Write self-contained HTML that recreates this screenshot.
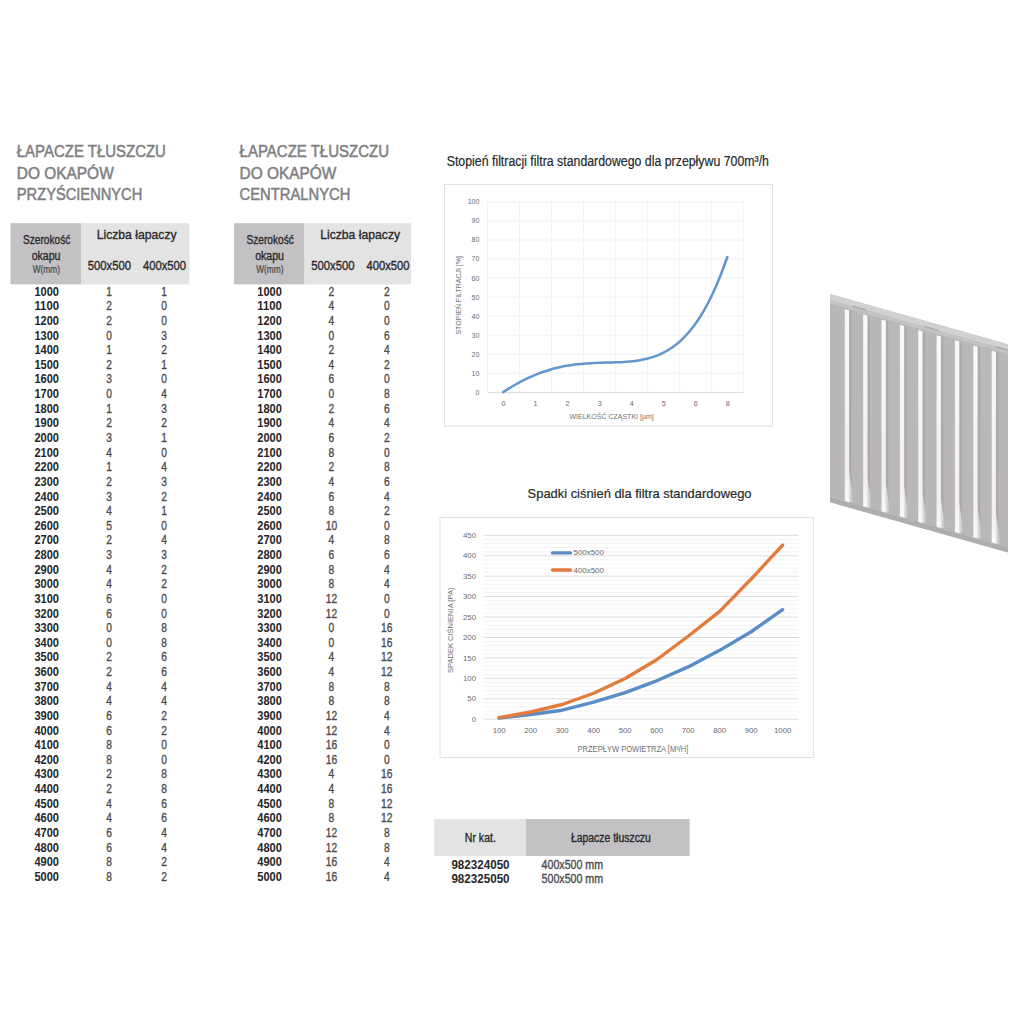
<!DOCTYPE html>
<html><head><meta charset="utf-8"><title>Łapacze tłuszczu</title>
<style>
html,body{margin:0;padding:0;background:#fff;}
body{width:1024px;height:1024px;overflow:hidden;font-family:"Liberation Sans", sans-serif;}
svg{display:block;font-family:"Liberation Sans", sans-serif;}
</style></head><body>
<svg width="1024" height="1024" viewBox="0 0 1024 1024">
<text x="16.80" y="156.80" font-size="17.4" fill="#808082" stroke="#808082" stroke-width="0.55" textLength="149.10" lengthAdjust="spacingAndGlyphs">ŁAPACZE TŁUSZCZU</text>
<text x="16.80" y="178.60" font-size="17.4" fill="#808082" stroke="#808082" stroke-width="0.55" textLength="96.90" lengthAdjust="spacingAndGlyphs">DO OKAPÓW</text>
<text x="16.80" y="200.00" font-size="17.4" fill="#808082" stroke="#808082" stroke-width="0.55" textLength="125.50" lengthAdjust="spacingAndGlyphs">PRZYŚCIENNYCH</text>
<text x="239.60" y="156.60" font-size="17.4" fill="#808082" stroke="#808082" stroke-width="0.55" textLength="149.40" lengthAdjust="spacingAndGlyphs">ŁAPACZE TŁUSZCZU</text>
<text x="239.60" y="178.50" font-size="17.4" fill="#808082" stroke="#808082" stroke-width="0.55" textLength="96.60" lengthAdjust="spacingAndGlyphs">DO OKAPÓW</text>
<text x="239.60" y="200.10" font-size="17.4" fill="#808082" stroke="#808082" stroke-width="0.55" textLength="110.80" lengthAdjust="spacingAndGlyphs">CENTRALNYCH</text>
<rect x="10.50" y="223.2" width="70.5" height="61.2" fill="#c3c1c3"/>
<rect x="81.00" y="223.2" width="108.50" height="61.2" fill="#e3e3e4"/>
<text x="23.00" y="243.70" font-size="12.5" fill="#29292b" stroke="#29292b" stroke-width="0.35" textLength="47.30" lengthAdjust="spacingAndGlyphs">Szerokość</text>
<text x="31.70" y="259.80" font-size="12.5" fill="#29292b" stroke="#29292b" stroke-width="0.35" textLength="28.80" lengthAdjust="spacingAndGlyphs">okapu</text>
<text x="32.70" y="272.50" font-size="10" fill="#4a4a4c" stroke="#4a4a4c" stroke-width="0.24499999999999997" textLength="27.30" lengthAdjust="spacingAndGlyphs">W(mm)</text>
<text x="96.70" y="239.30" font-size="13.5" fill="#29292b" stroke="#29292b" stroke-width="0.35" textLength="79.90" lengthAdjust="spacingAndGlyphs">Liczba łapaczy</text>
<text x="87.70" y="270.00" font-size="12.5" fill="#29292b" stroke="#29292b" stroke-width="0.35" textLength="43.40" lengthAdjust="spacingAndGlyphs">500x500</text>
<text x="143.00" y="270.00" font-size="12.5" fill="#29292b" stroke="#29292b" stroke-width="0.35" textLength="43.00" lengthAdjust="spacingAndGlyphs">400x500</text>
<text x="34.40" y="295.70" font-size="13" fill="#262628" font-weight="bold" textLength="24.60" lengthAdjust="spacingAndGlyphs">1000</text>
<text x="106.25" y="295.70" font-size="13" fill="#4a4a4c" stroke="#4a4a4c" stroke-width="0.35" textLength="5.70" lengthAdjust="spacingAndGlyphs">1</text>
<text x="161.15" y="295.70" font-size="13" fill="#4a4a4c" stroke="#4a4a4c" stroke-width="0.35" textLength="5.70" lengthAdjust="spacingAndGlyphs">1</text>
<text x="34.40" y="310.33" font-size="13" fill="#262628" font-weight="bold" textLength="24.60" lengthAdjust="spacingAndGlyphs">1100</text>
<text x="106.25" y="310.33" font-size="13" fill="#4a4a4c" stroke="#4a4a4c" stroke-width="0.35" textLength="5.70" lengthAdjust="spacingAndGlyphs">2</text>
<text x="161.15" y="310.33" font-size="13" fill="#4a4a4c" stroke="#4a4a4c" stroke-width="0.35" textLength="5.70" lengthAdjust="spacingAndGlyphs">0</text>
<text x="34.40" y="324.96" font-size="13" fill="#262628" font-weight="bold" textLength="24.60" lengthAdjust="spacingAndGlyphs">1200</text>
<text x="106.25" y="324.96" font-size="13" fill="#4a4a4c" stroke="#4a4a4c" stroke-width="0.35" textLength="5.70" lengthAdjust="spacingAndGlyphs">2</text>
<text x="161.15" y="324.96" font-size="13" fill="#4a4a4c" stroke="#4a4a4c" stroke-width="0.35" textLength="5.70" lengthAdjust="spacingAndGlyphs">0</text>
<text x="34.40" y="339.59" font-size="13" fill="#262628" font-weight="bold" textLength="24.60" lengthAdjust="spacingAndGlyphs">1300</text>
<text x="106.25" y="339.59" font-size="13" fill="#4a4a4c" stroke="#4a4a4c" stroke-width="0.35" textLength="5.70" lengthAdjust="spacingAndGlyphs">0</text>
<text x="161.15" y="339.59" font-size="13" fill="#4a4a4c" stroke="#4a4a4c" stroke-width="0.35" textLength="5.70" lengthAdjust="spacingAndGlyphs">3</text>
<text x="34.40" y="354.22" font-size="13" fill="#262628" font-weight="bold" textLength="24.60" lengthAdjust="spacingAndGlyphs">1400</text>
<text x="106.25" y="354.22" font-size="13" fill="#4a4a4c" stroke="#4a4a4c" stroke-width="0.35" textLength="5.70" lengthAdjust="spacingAndGlyphs">1</text>
<text x="161.15" y="354.22" font-size="13" fill="#4a4a4c" stroke="#4a4a4c" stroke-width="0.35" textLength="5.70" lengthAdjust="spacingAndGlyphs">2</text>
<text x="34.40" y="368.85" font-size="13" fill="#262628" font-weight="bold" textLength="24.60" lengthAdjust="spacingAndGlyphs">1500</text>
<text x="106.25" y="368.85" font-size="13" fill="#4a4a4c" stroke="#4a4a4c" stroke-width="0.35" textLength="5.70" lengthAdjust="spacingAndGlyphs">2</text>
<text x="161.15" y="368.85" font-size="13" fill="#4a4a4c" stroke="#4a4a4c" stroke-width="0.35" textLength="5.70" lengthAdjust="spacingAndGlyphs">1</text>
<text x="34.40" y="383.48" font-size="13" fill="#262628" font-weight="bold" textLength="24.60" lengthAdjust="spacingAndGlyphs">1600</text>
<text x="106.25" y="383.48" font-size="13" fill="#4a4a4c" stroke="#4a4a4c" stroke-width="0.35" textLength="5.70" lengthAdjust="spacingAndGlyphs">3</text>
<text x="161.15" y="383.48" font-size="13" fill="#4a4a4c" stroke="#4a4a4c" stroke-width="0.35" textLength="5.70" lengthAdjust="spacingAndGlyphs">0</text>
<text x="34.40" y="398.11" font-size="13" fill="#262628" font-weight="bold" textLength="24.60" lengthAdjust="spacingAndGlyphs">1700</text>
<text x="106.25" y="398.11" font-size="13" fill="#4a4a4c" stroke="#4a4a4c" stroke-width="0.35" textLength="5.70" lengthAdjust="spacingAndGlyphs">0</text>
<text x="161.15" y="398.11" font-size="13" fill="#4a4a4c" stroke="#4a4a4c" stroke-width="0.35" textLength="5.70" lengthAdjust="spacingAndGlyphs">4</text>
<text x="34.40" y="412.74" font-size="13" fill="#262628" font-weight="bold" textLength="24.60" lengthAdjust="spacingAndGlyphs">1800</text>
<text x="106.25" y="412.74" font-size="13" fill="#4a4a4c" stroke="#4a4a4c" stroke-width="0.35" textLength="5.70" lengthAdjust="spacingAndGlyphs">1</text>
<text x="161.15" y="412.74" font-size="13" fill="#4a4a4c" stroke="#4a4a4c" stroke-width="0.35" textLength="5.70" lengthAdjust="spacingAndGlyphs">3</text>
<text x="34.40" y="427.37" font-size="13" fill="#262628" font-weight="bold" textLength="24.60" lengthAdjust="spacingAndGlyphs">1900</text>
<text x="106.25" y="427.37" font-size="13" fill="#4a4a4c" stroke="#4a4a4c" stroke-width="0.35" textLength="5.70" lengthAdjust="spacingAndGlyphs">2</text>
<text x="161.15" y="427.37" font-size="13" fill="#4a4a4c" stroke="#4a4a4c" stroke-width="0.35" textLength="5.70" lengthAdjust="spacingAndGlyphs">2</text>
<text x="34.40" y="442.00" font-size="13" fill="#262628" font-weight="bold" textLength="24.60" lengthAdjust="spacingAndGlyphs">2000</text>
<text x="106.25" y="442.00" font-size="13" fill="#4a4a4c" stroke="#4a4a4c" stroke-width="0.35" textLength="5.70" lengthAdjust="spacingAndGlyphs">3</text>
<text x="161.15" y="442.00" font-size="13" fill="#4a4a4c" stroke="#4a4a4c" stroke-width="0.35" textLength="5.70" lengthAdjust="spacingAndGlyphs">1</text>
<text x="34.40" y="456.63" font-size="13" fill="#262628" font-weight="bold" textLength="24.60" lengthAdjust="spacingAndGlyphs">2100</text>
<text x="106.25" y="456.63" font-size="13" fill="#4a4a4c" stroke="#4a4a4c" stroke-width="0.35" textLength="5.70" lengthAdjust="spacingAndGlyphs">4</text>
<text x="161.15" y="456.63" font-size="13" fill="#4a4a4c" stroke="#4a4a4c" stroke-width="0.35" textLength="5.70" lengthAdjust="spacingAndGlyphs">0</text>
<text x="34.40" y="471.26" font-size="13" fill="#262628" font-weight="bold" textLength="24.60" lengthAdjust="spacingAndGlyphs">2200</text>
<text x="106.25" y="471.26" font-size="13" fill="#4a4a4c" stroke="#4a4a4c" stroke-width="0.35" textLength="5.70" lengthAdjust="spacingAndGlyphs">1</text>
<text x="161.15" y="471.26" font-size="13" fill="#4a4a4c" stroke="#4a4a4c" stroke-width="0.35" textLength="5.70" lengthAdjust="spacingAndGlyphs">4</text>
<text x="34.40" y="485.89" font-size="13" fill="#262628" font-weight="bold" textLength="24.60" lengthAdjust="spacingAndGlyphs">2300</text>
<text x="106.25" y="485.89" font-size="13" fill="#4a4a4c" stroke="#4a4a4c" stroke-width="0.35" textLength="5.70" lengthAdjust="spacingAndGlyphs">2</text>
<text x="161.15" y="485.89" font-size="13" fill="#4a4a4c" stroke="#4a4a4c" stroke-width="0.35" textLength="5.70" lengthAdjust="spacingAndGlyphs">3</text>
<text x="34.40" y="500.52" font-size="13" fill="#262628" font-weight="bold" textLength="24.60" lengthAdjust="spacingAndGlyphs">2400</text>
<text x="106.25" y="500.52" font-size="13" fill="#4a4a4c" stroke="#4a4a4c" stroke-width="0.35" textLength="5.70" lengthAdjust="spacingAndGlyphs">3</text>
<text x="161.15" y="500.52" font-size="13" fill="#4a4a4c" stroke="#4a4a4c" stroke-width="0.35" textLength="5.70" lengthAdjust="spacingAndGlyphs">2</text>
<text x="34.40" y="515.15" font-size="13" fill="#262628" font-weight="bold" textLength="24.60" lengthAdjust="spacingAndGlyphs">2500</text>
<text x="106.25" y="515.15" font-size="13" fill="#4a4a4c" stroke="#4a4a4c" stroke-width="0.35" textLength="5.70" lengthAdjust="spacingAndGlyphs">4</text>
<text x="161.15" y="515.15" font-size="13" fill="#4a4a4c" stroke="#4a4a4c" stroke-width="0.35" textLength="5.70" lengthAdjust="spacingAndGlyphs">1</text>
<text x="34.40" y="529.78" font-size="13" fill="#262628" font-weight="bold" textLength="24.60" lengthAdjust="spacingAndGlyphs">2600</text>
<text x="106.25" y="529.78" font-size="13" fill="#4a4a4c" stroke="#4a4a4c" stroke-width="0.35" textLength="5.70" lengthAdjust="spacingAndGlyphs">5</text>
<text x="161.15" y="529.78" font-size="13" fill="#4a4a4c" stroke="#4a4a4c" stroke-width="0.35" textLength="5.70" lengthAdjust="spacingAndGlyphs">0</text>
<text x="34.40" y="544.41" font-size="13" fill="#262628" font-weight="bold" textLength="24.60" lengthAdjust="spacingAndGlyphs">2700</text>
<text x="106.25" y="544.41" font-size="13" fill="#4a4a4c" stroke="#4a4a4c" stroke-width="0.35" textLength="5.70" lengthAdjust="spacingAndGlyphs">2</text>
<text x="161.15" y="544.41" font-size="13" fill="#4a4a4c" stroke="#4a4a4c" stroke-width="0.35" textLength="5.70" lengthAdjust="spacingAndGlyphs">4</text>
<text x="34.40" y="559.04" font-size="13" fill="#262628" font-weight="bold" textLength="24.60" lengthAdjust="spacingAndGlyphs">2800</text>
<text x="106.25" y="559.04" font-size="13" fill="#4a4a4c" stroke="#4a4a4c" stroke-width="0.35" textLength="5.70" lengthAdjust="spacingAndGlyphs">3</text>
<text x="161.15" y="559.04" font-size="13" fill="#4a4a4c" stroke="#4a4a4c" stroke-width="0.35" textLength="5.70" lengthAdjust="spacingAndGlyphs">3</text>
<text x="34.40" y="573.67" font-size="13" fill="#262628" font-weight="bold" textLength="24.60" lengthAdjust="spacingAndGlyphs">2900</text>
<text x="106.25" y="573.67" font-size="13" fill="#4a4a4c" stroke="#4a4a4c" stroke-width="0.35" textLength="5.70" lengthAdjust="spacingAndGlyphs">4</text>
<text x="161.15" y="573.67" font-size="13" fill="#4a4a4c" stroke="#4a4a4c" stroke-width="0.35" textLength="5.70" lengthAdjust="spacingAndGlyphs">2</text>
<text x="34.40" y="588.30" font-size="13" fill="#262628" font-weight="bold" textLength="24.60" lengthAdjust="spacingAndGlyphs">3000</text>
<text x="106.25" y="588.30" font-size="13" fill="#4a4a4c" stroke="#4a4a4c" stroke-width="0.35" textLength="5.70" lengthAdjust="spacingAndGlyphs">4</text>
<text x="161.15" y="588.30" font-size="13" fill="#4a4a4c" stroke="#4a4a4c" stroke-width="0.35" textLength="5.70" lengthAdjust="spacingAndGlyphs">2</text>
<text x="34.40" y="602.93" font-size="13" fill="#262628" font-weight="bold" textLength="24.60" lengthAdjust="spacingAndGlyphs">3100</text>
<text x="106.25" y="602.93" font-size="13" fill="#4a4a4c" stroke="#4a4a4c" stroke-width="0.35" textLength="5.70" lengthAdjust="spacingAndGlyphs">6</text>
<text x="161.15" y="602.93" font-size="13" fill="#4a4a4c" stroke="#4a4a4c" stroke-width="0.35" textLength="5.70" lengthAdjust="spacingAndGlyphs">0</text>
<text x="34.40" y="617.56" font-size="13" fill="#262628" font-weight="bold" textLength="24.60" lengthAdjust="spacingAndGlyphs">3200</text>
<text x="106.25" y="617.56" font-size="13" fill="#4a4a4c" stroke="#4a4a4c" stroke-width="0.35" textLength="5.70" lengthAdjust="spacingAndGlyphs">6</text>
<text x="161.15" y="617.56" font-size="13" fill="#4a4a4c" stroke="#4a4a4c" stroke-width="0.35" textLength="5.70" lengthAdjust="spacingAndGlyphs">0</text>
<text x="34.40" y="632.19" font-size="13" fill="#262628" font-weight="bold" textLength="24.60" lengthAdjust="spacingAndGlyphs">3300</text>
<text x="106.25" y="632.19" font-size="13" fill="#4a4a4c" stroke="#4a4a4c" stroke-width="0.35" textLength="5.70" lengthAdjust="spacingAndGlyphs">0</text>
<text x="161.15" y="632.19" font-size="13" fill="#4a4a4c" stroke="#4a4a4c" stroke-width="0.35" textLength="5.70" lengthAdjust="spacingAndGlyphs">8</text>
<text x="34.40" y="646.82" font-size="13" fill="#262628" font-weight="bold" textLength="24.60" lengthAdjust="spacingAndGlyphs">3400</text>
<text x="106.25" y="646.82" font-size="13" fill="#4a4a4c" stroke="#4a4a4c" stroke-width="0.35" textLength="5.70" lengthAdjust="spacingAndGlyphs">0</text>
<text x="161.15" y="646.82" font-size="13" fill="#4a4a4c" stroke="#4a4a4c" stroke-width="0.35" textLength="5.70" lengthAdjust="spacingAndGlyphs">8</text>
<text x="34.40" y="661.45" font-size="13" fill="#262628" font-weight="bold" textLength="24.60" lengthAdjust="spacingAndGlyphs">3500</text>
<text x="106.25" y="661.45" font-size="13" fill="#4a4a4c" stroke="#4a4a4c" stroke-width="0.35" textLength="5.70" lengthAdjust="spacingAndGlyphs">2</text>
<text x="161.15" y="661.45" font-size="13" fill="#4a4a4c" stroke="#4a4a4c" stroke-width="0.35" textLength="5.70" lengthAdjust="spacingAndGlyphs">6</text>
<text x="34.40" y="676.08" font-size="13" fill="#262628" font-weight="bold" textLength="24.60" lengthAdjust="spacingAndGlyphs">3600</text>
<text x="106.25" y="676.08" font-size="13" fill="#4a4a4c" stroke="#4a4a4c" stroke-width="0.35" textLength="5.70" lengthAdjust="spacingAndGlyphs">2</text>
<text x="161.15" y="676.08" font-size="13" fill="#4a4a4c" stroke="#4a4a4c" stroke-width="0.35" textLength="5.70" lengthAdjust="spacingAndGlyphs">6</text>
<text x="34.40" y="690.71" font-size="13" fill="#262628" font-weight="bold" textLength="24.60" lengthAdjust="spacingAndGlyphs">3700</text>
<text x="106.25" y="690.71" font-size="13" fill="#4a4a4c" stroke="#4a4a4c" stroke-width="0.35" textLength="5.70" lengthAdjust="spacingAndGlyphs">4</text>
<text x="161.15" y="690.71" font-size="13" fill="#4a4a4c" stroke="#4a4a4c" stroke-width="0.35" textLength="5.70" lengthAdjust="spacingAndGlyphs">4</text>
<text x="34.40" y="705.34" font-size="13" fill="#262628" font-weight="bold" textLength="24.60" lengthAdjust="spacingAndGlyphs">3800</text>
<text x="106.25" y="705.34" font-size="13" fill="#4a4a4c" stroke="#4a4a4c" stroke-width="0.35" textLength="5.70" lengthAdjust="spacingAndGlyphs">4</text>
<text x="161.15" y="705.34" font-size="13" fill="#4a4a4c" stroke="#4a4a4c" stroke-width="0.35" textLength="5.70" lengthAdjust="spacingAndGlyphs">4</text>
<text x="34.40" y="719.97" font-size="13" fill="#262628" font-weight="bold" textLength="24.60" lengthAdjust="spacingAndGlyphs">3900</text>
<text x="106.25" y="719.97" font-size="13" fill="#4a4a4c" stroke="#4a4a4c" stroke-width="0.35" textLength="5.70" lengthAdjust="spacingAndGlyphs">6</text>
<text x="161.15" y="719.97" font-size="13" fill="#4a4a4c" stroke="#4a4a4c" stroke-width="0.35" textLength="5.70" lengthAdjust="spacingAndGlyphs">2</text>
<text x="34.40" y="734.60" font-size="13" fill="#262628" font-weight="bold" textLength="24.60" lengthAdjust="spacingAndGlyphs">4000</text>
<text x="106.25" y="734.60" font-size="13" fill="#4a4a4c" stroke="#4a4a4c" stroke-width="0.35" textLength="5.70" lengthAdjust="spacingAndGlyphs">6</text>
<text x="161.15" y="734.60" font-size="13" fill="#4a4a4c" stroke="#4a4a4c" stroke-width="0.35" textLength="5.70" lengthAdjust="spacingAndGlyphs">2</text>
<text x="34.40" y="749.23" font-size="13" fill="#262628" font-weight="bold" textLength="24.60" lengthAdjust="spacingAndGlyphs">4100</text>
<text x="106.25" y="749.23" font-size="13" fill="#4a4a4c" stroke="#4a4a4c" stroke-width="0.35" textLength="5.70" lengthAdjust="spacingAndGlyphs">8</text>
<text x="161.15" y="749.23" font-size="13" fill="#4a4a4c" stroke="#4a4a4c" stroke-width="0.35" textLength="5.70" lengthAdjust="spacingAndGlyphs">0</text>
<text x="34.40" y="763.86" font-size="13" fill="#262628" font-weight="bold" textLength="24.60" lengthAdjust="spacingAndGlyphs">4200</text>
<text x="106.25" y="763.86" font-size="13" fill="#4a4a4c" stroke="#4a4a4c" stroke-width="0.35" textLength="5.70" lengthAdjust="spacingAndGlyphs">8</text>
<text x="161.15" y="763.86" font-size="13" fill="#4a4a4c" stroke="#4a4a4c" stroke-width="0.35" textLength="5.70" lengthAdjust="spacingAndGlyphs">0</text>
<text x="34.40" y="778.49" font-size="13" fill="#262628" font-weight="bold" textLength="24.60" lengthAdjust="spacingAndGlyphs">4300</text>
<text x="106.25" y="778.49" font-size="13" fill="#4a4a4c" stroke="#4a4a4c" stroke-width="0.35" textLength="5.70" lengthAdjust="spacingAndGlyphs">2</text>
<text x="161.15" y="778.49" font-size="13" fill="#4a4a4c" stroke="#4a4a4c" stroke-width="0.35" textLength="5.70" lengthAdjust="spacingAndGlyphs">8</text>
<text x="34.40" y="793.12" font-size="13" fill="#262628" font-weight="bold" textLength="24.60" lengthAdjust="spacingAndGlyphs">4400</text>
<text x="106.25" y="793.12" font-size="13" fill="#4a4a4c" stroke="#4a4a4c" stroke-width="0.35" textLength="5.70" lengthAdjust="spacingAndGlyphs">2</text>
<text x="161.15" y="793.12" font-size="13" fill="#4a4a4c" stroke="#4a4a4c" stroke-width="0.35" textLength="5.70" lengthAdjust="spacingAndGlyphs">8</text>
<text x="34.40" y="807.75" font-size="13" fill="#262628" font-weight="bold" textLength="24.60" lengthAdjust="spacingAndGlyphs">4500</text>
<text x="106.25" y="807.75" font-size="13" fill="#4a4a4c" stroke="#4a4a4c" stroke-width="0.35" textLength="5.70" lengthAdjust="spacingAndGlyphs">4</text>
<text x="161.15" y="807.75" font-size="13" fill="#4a4a4c" stroke="#4a4a4c" stroke-width="0.35" textLength="5.70" lengthAdjust="spacingAndGlyphs">6</text>
<text x="34.40" y="822.38" font-size="13" fill="#262628" font-weight="bold" textLength="24.60" lengthAdjust="spacingAndGlyphs">4600</text>
<text x="106.25" y="822.38" font-size="13" fill="#4a4a4c" stroke="#4a4a4c" stroke-width="0.35" textLength="5.70" lengthAdjust="spacingAndGlyphs">4</text>
<text x="161.15" y="822.38" font-size="13" fill="#4a4a4c" stroke="#4a4a4c" stroke-width="0.35" textLength="5.70" lengthAdjust="spacingAndGlyphs">6</text>
<text x="34.40" y="837.01" font-size="13" fill="#262628" font-weight="bold" textLength="24.60" lengthAdjust="spacingAndGlyphs">4700</text>
<text x="106.25" y="837.01" font-size="13" fill="#4a4a4c" stroke="#4a4a4c" stroke-width="0.35" textLength="5.70" lengthAdjust="spacingAndGlyphs">6</text>
<text x="161.15" y="837.01" font-size="13" fill="#4a4a4c" stroke="#4a4a4c" stroke-width="0.35" textLength="5.70" lengthAdjust="spacingAndGlyphs">4</text>
<text x="34.40" y="851.64" font-size="13" fill="#262628" font-weight="bold" textLength="24.60" lengthAdjust="spacingAndGlyphs">4800</text>
<text x="106.25" y="851.64" font-size="13" fill="#4a4a4c" stroke="#4a4a4c" stroke-width="0.35" textLength="5.70" lengthAdjust="spacingAndGlyphs">6</text>
<text x="161.15" y="851.64" font-size="13" fill="#4a4a4c" stroke="#4a4a4c" stroke-width="0.35" textLength="5.70" lengthAdjust="spacingAndGlyphs">4</text>
<text x="34.40" y="866.27" font-size="13" fill="#262628" font-weight="bold" textLength="24.60" lengthAdjust="spacingAndGlyphs">4900</text>
<text x="106.25" y="866.27" font-size="13" fill="#4a4a4c" stroke="#4a4a4c" stroke-width="0.35" textLength="5.70" lengthAdjust="spacingAndGlyphs">8</text>
<text x="161.15" y="866.27" font-size="13" fill="#4a4a4c" stroke="#4a4a4c" stroke-width="0.35" textLength="5.70" lengthAdjust="spacingAndGlyphs">2</text>
<text x="34.40" y="880.90" font-size="13" fill="#262628" font-weight="bold" textLength="24.60" lengthAdjust="spacingAndGlyphs">5000</text>
<text x="106.25" y="880.90" font-size="13" fill="#4a4a4c" stroke="#4a4a4c" stroke-width="0.35" textLength="5.70" lengthAdjust="spacingAndGlyphs">8</text>
<text x="161.15" y="880.90" font-size="13" fill="#4a4a4c" stroke="#4a4a4c" stroke-width="0.35" textLength="5.70" lengthAdjust="spacingAndGlyphs">2</text>
<rect x="234.00" y="223.2" width="70.5" height="61.2" fill="#c3c1c3"/>
<rect x="304.50" y="223.2" width="106.50" height="61.2" fill="#e3e3e4"/>
<text x="246.50" y="243.70" font-size="12.5" fill="#29292b" stroke="#29292b" stroke-width="0.35" textLength="47.30" lengthAdjust="spacingAndGlyphs">Szerokość</text>
<text x="255.20" y="259.80" font-size="12.5" fill="#29292b" stroke="#29292b" stroke-width="0.35" textLength="28.80" lengthAdjust="spacingAndGlyphs">okapu</text>
<text x="256.20" y="272.50" font-size="10" fill="#4a4a4c" stroke="#4a4a4c" stroke-width="0.24499999999999997" textLength="27.30" lengthAdjust="spacingAndGlyphs">W(mm)</text>
<text x="320.20" y="239.30" font-size="13.5" fill="#29292b" stroke="#29292b" stroke-width="0.35" textLength="79.90" lengthAdjust="spacingAndGlyphs">Liczba łapaczy</text>
<text x="311.20" y="270.00" font-size="12.5" fill="#29292b" stroke="#29292b" stroke-width="0.35" textLength="43.40" lengthAdjust="spacingAndGlyphs">500x500</text>
<text x="366.50" y="270.00" font-size="12.5" fill="#29292b" stroke="#29292b" stroke-width="0.35" textLength="43.00" lengthAdjust="spacingAndGlyphs">400x500</text>
<text x="257.30" y="295.70" font-size="13" fill="#262628" font-weight="bold" textLength="24.60" lengthAdjust="spacingAndGlyphs">1000</text>
<text x="328.55" y="295.70" font-size="13" fill="#4a4a4c" stroke="#4a4a4c" stroke-width="0.35" textLength="5.70" lengthAdjust="spacingAndGlyphs">2</text>
<text x="383.95" y="295.70" font-size="13" fill="#4a4a4c" stroke="#4a4a4c" stroke-width="0.35" textLength="5.70" lengthAdjust="spacingAndGlyphs">2</text>
<text x="257.30" y="310.33" font-size="13" fill="#262628" font-weight="bold" textLength="24.60" lengthAdjust="spacingAndGlyphs">1100</text>
<text x="328.55" y="310.33" font-size="13" fill="#4a4a4c" stroke="#4a4a4c" stroke-width="0.35" textLength="5.70" lengthAdjust="spacingAndGlyphs">4</text>
<text x="383.95" y="310.33" font-size="13" fill="#4a4a4c" stroke="#4a4a4c" stroke-width="0.35" textLength="5.70" lengthAdjust="spacingAndGlyphs">0</text>
<text x="257.30" y="324.96" font-size="13" fill="#262628" font-weight="bold" textLength="24.60" lengthAdjust="spacingAndGlyphs">1200</text>
<text x="328.55" y="324.96" font-size="13" fill="#4a4a4c" stroke="#4a4a4c" stroke-width="0.35" textLength="5.70" lengthAdjust="spacingAndGlyphs">4</text>
<text x="383.95" y="324.96" font-size="13" fill="#4a4a4c" stroke="#4a4a4c" stroke-width="0.35" textLength="5.70" lengthAdjust="spacingAndGlyphs">0</text>
<text x="257.30" y="339.59" font-size="13" fill="#262628" font-weight="bold" textLength="24.60" lengthAdjust="spacingAndGlyphs">1300</text>
<text x="328.55" y="339.59" font-size="13" fill="#4a4a4c" stroke="#4a4a4c" stroke-width="0.35" textLength="5.70" lengthAdjust="spacingAndGlyphs">0</text>
<text x="383.95" y="339.59" font-size="13" fill="#4a4a4c" stroke="#4a4a4c" stroke-width="0.35" textLength="5.70" lengthAdjust="spacingAndGlyphs">6</text>
<text x="257.30" y="354.22" font-size="13" fill="#262628" font-weight="bold" textLength="24.60" lengthAdjust="spacingAndGlyphs">1400</text>
<text x="328.55" y="354.22" font-size="13" fill="#4a4a4c" stroke="#4a4a4c" stroke-width="0.35" textLength="5.70" lengthAdjust="spacingAndGlyphs">2</text>
<text x="383.95" y="354.22" font-size="13" fill="#4a4a4c" stroke="#4a4a4c" stroke-width="0.35" textLength="5.70" lengthAdjust="spacingAndGlyphs">4</text>
<text x="257.30" y="368.85" font-size="13" fill="#262628" font-weight="bold" textLength="24.60" lengthAdjust="spacingAndGlyphs">1500</text>
<text x="328.55" y="368.85" font-size="13" fill="#4a4a4c" stroke="#4a4a4c" stroke-width="0.35" textLength="5.70" lengthAdjust="spacingAndGlyphs">4</text>
<text x="383.95" y="368.85" font-size="13" fill="#4a4a4c" stroke="#4a4a4c" stroke-width="0.35" textLength="5.70" lengthAdjust="spacingAndGlyphs">2</text>
<text x="257.30" y="383.48" font-size="13" fill="#262628" font-weight="bold" textLength="24.60" lengthAdjust="spacingAndGlyphs">1600</text>
<text x="328.55" y="383.48" font-size="13" fill="#4a4a4c" stroke="#4a4a4c" stroke-width="0.35" textLength="5.70" lengthAdjust="spacingAndGlyphs">6</text>
<text x="383.95" y="383.48" font-size="13" fill="#4a4a4c" stroke="#4a4a4c" stroke-width="0.35" textLength="5.70" lengthAdjust="spacingAndGlyphs">0</text>
<text x="257.30" y="398.11" font-size="13" fill="#262628" font-weight="bold" textLength="24.60" lengthAdjust="spacingAndGlyphs">1700</text>
<text x="328.55" y="398.11" font-size="13" fill="#4a4a4c" stroke="#4a4a4c" stroke-width="0.35" textLength="5.70" lengthAdjust="spacingAndGlyphs">0</text>
<text x="383.95" y="398.11" font-size="13" fill="#4a4a4c" stroke="#4a4a4c" stroke-width="0.35" textLength="5.70" lengthAdjust="spacingAndGlyphs">8</text>
<text x="257.30" y="412.74" font-size="13" fill="#262628" font-weight="bold" textLength="24.60" lengthAdjust="spacingAndGlyphs">1800</text>
<text x="328.55" y="412.74" font-size="13" fill="#4a4a4c" stroke="#4a4a4c" stroke-width="0.35" textLength="5.70" lengthAdjust="spacingAndGlyphs">2</text>
<text x="383.95" y="412.74" font-size="13" fill="#4a4a4c" stroke="#4a4a4c" stroke-width="0.35" textLength="5.70" lengthAdjust="spacingAndGlyphs">6</text>
<text x="257.30" y="427.37" font-size="13" fill="#262628" font-weight="bold" textLength="24.60" lengthAdjust="spacingAndGlyphs">1900</text>
<text x="328.55" y="427.37" font-size="13" fill="#4a4a4c" stroke="#4a4a4c" stroke-width="0.35" textLength="5.70" lengthAdjust="spacingAndGlyphs">4</text>
<text x="383.95" y="427.37" font-size="13" fill="#4a4a4c" stroke="#4a4a4c" stroke-width="0.35" textLength="5.70" lengthAdjust="spacingAndGlyphs">4</text>
<text x="257.30" y="442.00" font-size="13" fill="#262628" font-weight="bold" textLength="24.60" lengthAdjust="spacingAndGlyphs">2000</text>
<text x="328.55" y="442.00" font-size="13" fill="#4a4a4c" stroke="#4a4a4c" stroke-width="0.35" textLength="5.70" lengthAdjust="spacingAndGlyphs">6</text>
<text x="383.95" y="442.00" font-size="13" fill="#4a4a4c" stroke="#4a4a4c" stroke-width="0.35" textLength="5.70" lengthAdjust="spacingAndGlyphs">2</text>
<text x="257.30" y="456.63" font-size="13" fill="#262628" font-weight="bold" textLength="24.60" lengthAdjust="spacingAndGlyphs">2100</text>
<text x="328.55" y="456.63" font-size="13" fill="#4a4a4c" stroke="#4a4a4c" stroke-width="0.35" textLength="5.70" lengthAdjust="spacingAndGlyphs">8</text>
<text x="383.95" y="456.63" font-size="13" fill="#4a4a4c" stroke="#4a4a4c" stroke-width="0.35" textLength="5.70" lengthAdjust="spacingAndGlyphs">0</text>
<text x="257.30" y="471.26" font-size="13" fill="#262628" font-weight="bold" textLength="24.60" lengthAdjust="spacingAndGlyphs">2200</text>
<text x="328.55" y="471.26" font-size="13" fill="#4a4a4c" stroke="#4a4a4c" stroke-width="0.35" textLength="5.70" lengthAdjust="spacingAndGlyphs">2</text>
<text x="383.95" y="471.26" font-size="13" fill="#4a4a4c" stroke="#4a4a4c" stroke-width="0.35" textLength="5.70" lengthAdjust="spacingAndGlyphs">8</text>
<text x="257.30" y="485.89" font-size="13" fill="#262628" font-weight="bold" textLength="24.60" lengthAdjust="spacingAndGlyphs">2300</text>
<text x="328.55" y="485.89" font-size="13" fill="#4a4a4c" stroke="#4a4a4c" stroke-width="0.35" textLength="5.70" lengthAdjust="spacingAndGlyphs">4</text>
<text x="383.95" y="485.89" font-size="13" fill="#4a4a4c" stroke="#4a4a4c" stroke-width="0.35" textLength="5.70" lengthAdjust="spacingAndGlyphs">6</text>
<text x="257.30" y="500.52" font-size="13" fill="#262628" font-weight="bold" textLength="24.60" lengthAdjust="spacingAndGlyphs">2400</text>
<text x="328.55" y="500.52" font-size="13" fill="#4a4a4c" stroke="#4a4a4c" stroke-width="0.35" textLength="5.70" lengthAdjust="spacingAndGlyphs">6</text>
<text x="383.95" y="500.52" font-size="13" fill="#4a4a4c" stroke="#4a4a4c" stroke-width="0.35" textLength="5.70" lengthAdjust="spacingAndGlyphs">4</text>
<text x="257.30" y="515.15" font-size="13" fill="#262628" font-weight="bold" textLength="24.60" lengthAdjust="spacingAndGlyphs">2500</text>
<text x="328.55" y="515.15" font-size="13" fill="#4a4a4c" stroke="#4a4a4c" stroke-width="0.35" textLength="5.70" lengthAdjust="spacingAndGlyphs">8</text>
<text x="383.95" y="515.15" font-size="13" fill="#4a4a4c" stroke="#4a4a4c" stroke-width="0.35" textLength="5.70" lengthAdjust="spacingAndGlyphs">2</text>
<text x="257.30" y="529.78" font-size="13" fill="#262628" font-weight="bold" textLength="24.60" lengthAdjust="spacingAndGlyphs">2600</text>
<text x="325.70" y="529.78" font-size="13" fill="#4a4a4c" stroke="#4a4a4c" stroke-width="0.35" textLength="11.40" lengthAdjust="spacingAndGlyphs">10</text>
<text x="383.95" y="529.78" font-size="13" fill="#4a4a4c" stroke="#4a4a4c" stroke-width="0.35" textLength="5.70" lengthAdjust="spacingAndGlyphs">0</text>
<text x="257.30" y="544.41" font-size="13" fill="#262628" font-weight="bold" textLength="24.60" lengthAdjust="spacingAndGlyphs">2700</text>
<text x="328.55" y="544.41" font-size="13" fill="#4a4a4c" stroke="#4a4a4c" stroke-width="0.35" textLength="5.70" lengthAdjust="spacingAndGlyphs">4</text>
<text x="383.95" y="544.41" font-size="13" fill="#4a4a4c" stroke="#4a4a4c" stroke-width="0.35" textLength="5.70" lengthAdjust="spacingAndGlyphs">8</text>
<text x="257.30" y="559.04" font-size="13" fill="#262628" font-weight="bold" textLength="24.60" lengthAdjust="spacingAndGlyphs">2800</text>
<text x="328.55" y="559.04" font-size="13" fill="#4a4a4c" stroke="#4a4a4c" stroke-width="0.35" textLength="5.70" lengthAdjust="spacingAndGlyphs">6</text>
<text x="383.95" y="559.04" font-size="13" fill="#4a4a4c" stroke="#4a4a4c" stroke-width="0.35" textLength="5.70" lengthAdjust="spacingAndGlyphs">6</text>
<text x="257.30" y="573.67" font-size="13" fill="#262628" font-weight="bold" textLength="24.60" lengthAdjust="spacingAndGlyphs">2900</text>
<text x="328.55" y="573.67" font-size="13" fill="#4a4a4c" stroke="#4a4a4c" stroke-width="0.35" textLength="5.70" lengthAdjust="spacingAndGlyphs">8</text>
<text x="383.95" y="573.67" font-size="13" fill="#4a4a4c" stroke="#4a4a4c" stroke-width="0.35" textLength="5.70" lengthAdjust="spacingAndGlyphs">4</text>
<text x="257.30" y="588.30" font-size="13" fill="#262628" font-weight="bold" textLength="24.60" lengthAdjust="spacingAndGlyphs">3000</text>
<text x="328.55" y="588.30" font-size="13" fill="#4a4a4c" stroke="#4a4a4c" stroke-width="0.35" textLength="5.70" lengthAdjust="spacingAndGlyphs">8</text>
<text x="383.95" y="588.30" font-size="13" fill="#4a4a4c" stroke="#4a4a4c" stroke-width="0.35" textLength="5.70" lengthAdjust="spacingAndGlyphs">4</text>
<text x="257.30" y="602.93" font-size="13" fill="#262628" font-weight="bold" textLength="24.60" lengthAdjust="spacingAndGlyphs">3100</text>
<text x="325.70" y="602.93" font-size="13" fill="#4a4a4c" stroke="#4a4a4c" stroke-width="0.35" textLength="11.40" lengthAdjust="spacingAndGlyphs">12</text>
<text x="383.95" y="602.93" font-size="13" fill="#4a4a4c" stroke="#4a4a4c" stroke-width="0.35" textLength="5.70" lengthAdjust="spacingAndGlyphs">0</text>
<text x="257.30" y="617.56" font-size="13" fill="#262628" font-weight="bold" textLength="24.60" lengthAdjust="spacingAndGlyphs">3200</text>
<text x="325.70" y="617.56" font-size="13" fill="#4a4a4c" stroke="#4a4a4c" stroke-width="0.35" textLength="11.40" lengthAdjust="spacingAndGlyphs">12</text>
<text x="383.95" y="617.56" font-size="13" fill="#4a4a4c" stroke="#4a4a4c" stroke-width="0.35" textLength="5.70" lengthAdjust="spacingAndGlyphs">0</text>
<text x="257.30" y="632.19" font-size="13" fill="#262628" font-weight="bold" textLength="24.60" lengthAdjust="spacingAndGlyphs">3300</text>
<text x="328.55" y="632.19" font-size="13" fill="#4a4a4c" stroke="#4a4a4c" stroke-width="0.35" textLength="5.70" lengthAdjust="spacingAndGlyphs">0</text>
<text x="381.10" y="632.19" font-size="13" fill="#4a4a4c" stroke="#4a4a4c" stroke-width="0.35" textLength="11.40" lengthAdjust="spacingAndGlyphs">16</text>
<text x="257.30" y="646.82" font-size="13" fill="#262628" font-weight="bold" textLength="24.60" lengthAdjust="spacingAndGlyphs">3400</text>
<text x="328.55" y="646.82" font-size="13" fill="#4a4a4c" stroke="#4a4a4c" stroke-width="0.35" textLength="5.70" lengthAdjust="spacingAndGlyphs">0</text>
<text x="381.10" y="646.82" font-size="13" fill="#4a4a4c" stroke="#4a4a4c" stroke-width="0.35" textLength="11.40" lengthAdjust="spacingAndGlyphs">16</text>
<text x="257.30" y="661.45" font-size="13" fill="#262628" font-weight="bold" textLength="24.60" lengthAdjust="spacingAndGlyphs">3500</text>
<text x="328.55" y="661.45" font-size="13" fill="#4a4a4c" stroke="#4a4a4c" stroke-width="0.35" textLength="5.70" lengthAdjust="spacingAndGlyphs">4</text>
<text x="381.10" y="661.45" font-size="13" fill="#4a4a4c" stroke="#4a4a4c" stroke-width="0.35" textLength="11.40" lengthAdjust="spacingAndGlyphs">12</text>
<text x="257.30" y="676.08" font-size="13" fill="#262628" font-weight="bold" textLength="24.60" lengthAdjust="spacingAndGlyphs">3600</text>
<text x="328.55" y="676.08" font-size="13" fill="#4a4a4c" stroke="#4a4a4c" stroke-width="0.35" textLength="5.70" lengthAdjust="spacingAndGlyphs">4</text>
<text x="381.10" y="676.08" font-size="13" fill="#4a4a4c" stroke="#4a4a4c" stroke-width="0.35" textLength="11.40" lengthAdjust="spacingAndGlyphs">12</text>
<text x="257.30" y="690.71" font-size="13" fill="#262628" font-weight="bold" textLength="24.60" lengthAdjust="spacingAndGlyphs">3700</text>
<text x="328.55" y="690.71" font-size="13" fill="#4a4a4c" stroke="#4a4a4c" stroke-width="0.35" textLength="5.70" lengthAdjust="spacingAndGlyphs">8</text>
<text x="383.95" y="690.71" font-size="13" fill="#4a4a4c" stroke="#4a4a4c" stroke-width="0.35" textLength="5.70" lengthAdjust="spacingAndGlyphs">8</text>
<text x="257.30" y="705.34" font-size="13" fill="#262628" font-weight="bold" textLength="24.60" lengthAdjust="spacingAndGlyphs">3800</text>
<text x="328.55" y="705.34" font-size="13" fill="#4a4a4c" stroke="#4a4a4c" stroke-width="0.35" textLength="5.70" lengthAdjust="spacingAndGlyphs">8</text>
<text x="383.95" y="705.34" font-size="13" fill="#4a4a4c" stroke="#4a4a4c" stroke-width="0.35" textLength="5.70" lengthAdjust="spacingAndGlyphs">8</text>
<text x="257.30" y="719.97" font-size="13" fill="#262628" font-weight="bold" textLength="24.60" lengthAdjust="spacingAndGlyphs">3900</text>
<text x="325.70" y="719.97" font-size="13" fill="#4a4a4c" stroke="#4a4a4c" stroke-width="0.35" textLength="11.40" lengthAdjust="spacingAndGlyphs">12</text>
<text x="383.95" y="719.97" font-size="13" fill="#4a4a4c" stroke="#4a4a4c" stroke-width="0.35" textLength="5.70" lengthAdjust="spacingAndGlyphs">4</text>
<text x="257.30" y="734.60" font-size="13" fill="#262628" font-weight="bold" textLength="24.60" lengthAdjust="spacingAndGlyphs">4000</text>
<text x="325.70" y="734.60" font-size="13" fill="#4a4a4c" stroke="#4a4a4c" stroke-width="0.35" textLength="11.40" lengthAdjust="spacingAndGlyphs">12</text>
<text x="383.95" y="734.60" font-size="13" fill="#4a4a4c" stroke="#4a4a4c" stroke-width="0.35" textLength="5.70" lengthAdjust="spacingAndGlyphs">4</text>
<text x="257.30" y="749.23" font-size="13" fill="#262628" font-weight="bold" textLength="24.60" lengthAdjust="spacingAndGlyphs">4100</text>
<text x="325.70" y="749.23" font-size="13" fill="#4a4a4c" stroke="#4a4a4c" stroke-width="0.35" textLength="11.40" lengthAdjust="spacingAndGlyphs">16</text>
<text x="383.95" y="749.23" font-size="13" fill="#4a4a4c" stroke="#4a4a4c" stroke-width="0.35" textLength="5.70" lengthAdjust="spacingAndGlyphs">0</text>
<text x="257.30" y="763.86" font-size="13" fill="#262628" font-weight="bold" textLength="24.60" lengthAdjust="spacingAndGlyphs">4200</text>
<text x="325.70" y="763.86" font-size="13" fill="#4a4a4c" stroke="#4a4a4c" stroke-width="0.35" textLength="11.40" lengthAdjust="spacingAndGlyphs">16</text>
<text x="383.95" y="763.86" font-size="13" fill="#4a4a4c" stroke="#4a4a4c" stroke-width="0.35" textLength="5.70" lengthAdjust="spacingAndGlyphs">0</text>
<text x="257.30" y="778.49" font-size="13" fill="#262628" font-weight="bold" textLength="24.60" lengthAdjust="spacingAndGlyphs">4300</text>
<text x="328.55" y="778.49" font-size="13" fill="#4a4a4c" stroke="#4a4a4c" stroke-width="0.35" textLength="5.70" lengthAdjust="spacingAndGlyphs">4</text>
<text x="381.10" y="778.49" font-size="13" fill="#4a4a4c" stroke="#4a4a4c" stroke-width="0.35" textLength="11.40" lengthAdjust="spacingAndGlyphs">16</text>
<text x="257.30" y="793.12" font-size="13" fill="#262628" font-weight="bold" textLength="24.60" lengthAdjust="spacingAndGlyphs">4400</text>
<text x="328.55" y="793.12" font-size="13" fill="#4a4a4c" stroke="#4a4a4c" stroke-width="0.35" textLength="5.70" lengthAdjust="spacingAndGlyphs">4</text>
<text x="381.10" y="793.12" font-size="13" fill="#4a4a4c" stroke="#4a4a4c" stroke-width="0.35" textLength="11.40" lengthAdjust="spacingAndGlyphs">16</text>
<text x="257.30" y="807.75" font-size="13" fill="#262628" font-weight="bold" textLength="24.60" lengthAdjust="spacingAndGlyphs">4500</text>
<text x="328.55" y="807.75" font-size="13" fill="#4a4a4c" stroke="#4a4a4c" stroke-width="0.35" textLength="5.70" lengthAdjust="spacingAndGlyphs">8</text>
<text x="381.10" y="807.75" font-size="13" fill="#4a4a4c" stroke="#4a4a4c" stroke-width="0.35" textLength="11.40" lengthAdjust="spacingAndGlyphs">12</text>
<text x="257.30" y="822.38" font-size="13" fill="#262628" font-weight="bold" textLength="24.60" lengthAdjust="spacingAndGlyphs">4600</text>
<text x="328.55" y="822.38" font-size="13" fill="#4a4a4c" stroke="#4a4a4c" stroke-width="0.35" textLength="5.70" lengthAdjust="spacingAndGlyphs">8</text>
<text x="381.10" y="822.38" font-size="13" fill="#4a4a4c" stroke="#4a4a4c" stroke-width="0.35" textLength="11.40" lengthAdjust="spacingAndGlyphs">12</text>
<text x="257.30" y="837.01" font-size="13" fill="#262628" font-weight="bold" textLength="24.60" lengthAdjust="spacingAndGlyphs">4700</text>
<text x="325.70" y="837.01" font-size="13" fill="#4a4a4c" stroke="#4a4a4c" stroke-width="0.35" textLength="11.40" lengthAdjust="spacingAndGlyphs">12</text>
<text x="383.95" y="837.01" font-size="13" fill="#4a4a4c" stroke="#4a4a4c" stroke-width="0.35" textLength="5.70" lengthAdjust="spacingAndGlyphs">8</text>
<text x="257.30" y="851.64" font-size="13" fill="#262628" font-weight="bold" textLength="24.60" lengthAdjust="spacingAndGlyphs">4800</text>
<text x="325.70" y="851.64" font-size="13" fill="#4a4a4c" stroke="#4a4a4c" stroke-width="0.35" textLength="11.40" lengthAdjust="spacingAndGlyphs">12</text>
<text x="383.95" y="851.64" font-size="13" fill="#4a4a4c" stroke="#4a4a4c" stroke-width="0.35" textLength="5.70" lengthAdjust="spacingAndGlyphs">8</text>
<text x="257.30" y="866.27" font-size="13" fill="#262628" font-weight="bold" textLength="24.60" lengthAdjust="spacingAndGlyphs">4900</text>
<text x="325.70" y="866.27" font-size="13" fill="#4a4a4c" stroke="#4a4a4c" stroke-width="0.35" textLength="11.40" lengthAdjust="spacingAndGlyphs">16</text>
<text x="383.95" y="866.27" font-size="13" fill="#4a4a4c" stroke="#4a4a4c" stroke-width="0.35" textLength="5.70" lengthAdjust="spacingAndGlyphs">4</text>
<text x="257.30" y="880.90" font-size="13" fill="#262628" font-weight="bold" textLength="24.60" lengthAdjust="spacingAndGlyphs">5000</text>
<text x="325.70" y="880.90" font-size="13" fill="#4a4a4c" stroke="#4a4a4c" stroke-width="0.35" textLength="11.40" lengthAdjust="spacingAndGlyphs">16</text>
<text x="383.95" y="880.90" font-size="13" fill="#4a4a4c" stroke="#4a4a4c" stroke-width="0.35" textLength="5.70" lengthAdjust="spacingAndGlyphs">4</text>
<rect x="444.5" y="184.5" width="328" height="241.5" fill="#fff" stroke="#e0e0e0" stroke-width="1"/>
<text x="446.70" y="165.80" font-size="14" fill="#25292a" stroke="#25292a" stroke-width="0.2" textLength="322.30" lengthAdjust="spacingAndGlyphs">Stopień filtracji filtra standardowego dla przepływu 700m³/h</text>
<path d="M487.5 392.40H743.8 M487.5 373.35H743.8 M487.5 354.30H743.8 M487.5 335.25H743.8 M487.5 316.20H743.8 M487.5 297.15H743.8 M487.5 278.10H743.8 M487.5 259.05H743.8 M487.5 240.00H743.8 M487.5 220.95H743.8 M487.5 201.90H743.8 M487.50 201.90V392.40 M519.54 201.90V392.40 M551.58 201.90V392.40 M583.62 201.90V392.40 M615.66 201.90V392.40 M647.70 201.90V392.40 M679.74 201.90V392.40 M711.78 201.90V392.40 M743.82 201.90V392.40" stroke="#f1f1f1" stroke-width="1" fill="none"/>
<path d="M487.5 392.4H743.8" stroke="#dcdcdc" stroke-width="1"/>
<text x="479.40" y="394.80" font-size="7" fill="#6a6a6c" text-anchor="end">0</text>
<text x="479.40" y="375.75" font-size="7" fill="#6a6a6c" text-anchor="end">10</text>
<text x="479.40" y="356.70" font-size="7" fill="#6a6a6c" text-anchor="end">20</text>
<text x="479.40" y="337.65" font-size="7" fill="#6a6a6c" text-anchor="end">30</text>
<text x="479.40" y="318.60" font-size="7" fill="#6a6a6c" text-anchor="end">40</text>
<text x="479.40" y="299.55" font-size="7" fill="#6a6a6c" text-anchor="end">50</text>
<text x="479.40" y="280.50" font-size="7" fill="#6a6a6c" text-anchor="end">60</text>
<text x="479.40" y="261.45" font-size="7" fill="#6a6a6c" text-anchor="end">70</text>
<text x="479.40" y="242.40" font-size="7" fill="#6a6a6c" text-anchor="end">80</text>
<text x="479.40" y="223.35" font-size="7" fill="#6a6a6c" text-anchor="end">90</text>
<text x="479.40" y="204.30" font-size="7" fill="#6a6a6c" text-anchor="end">100</text>
<text x="503.52" y="405.80" font-size="7.2" fill="#6a6a6c" text-anchor="middle">0</text>
<text x="535.56" y="405.80" font-size="7.2" fill="#6a6a6c" text-anchor="middle">1</text>
<text x="567.60" y="405.80" font-size="7.2" fill="#6a6a6c" text-anchor="middle">2</text>
<text x="599.64" y="405.80" font-size="7.2" fill="#6a6a6c" text-anchor="middle">3</text>
<text x="631.68" y="405.80" font-size="7.2" fill="#6a6a6c" text-anchor="middle">4</text>
<text x="663.72" y="405.80" font-size="7.2" fill="#6a6a6c" text-anchor="middle">5</text>
<text x="695.76" y="405.80" font-size="7.2" fill="#6a6a6c" text-anchor="middle">6</text>
<text x="727.80" y="405.80" font-size="7.2" fill="#6a6a6c" text-anchor="middle">8</text>
<text x="569.40" y="419.30" font-size="7.5" fill="#707072" textLength="84.40" lengthAdjust="spacingAndGlyphs">WIELKOŚĆ CZĄSTKI [µm]</text>
<text x="0" y="0" font-size="7.5" fill="#707072" textLength="78.5" lengthAdjust="spacingAndGlyphs" transform="translate(461.2 334.6) rotate(-90)">STOPIEŃ FILTRACJI [%]</text>
<path d="M503.20 392.06 C504.16 391.45 507.03 389.58 508.95 388.41 C510.86 387.23 512.78 386.09 514.69 385.00 C516.61 383.90 518.52 382.85 520.44 381.84 C522.35 380.83 524.27 379.86 526.18 378.93 C528.10 378.01 530.02 377.13 531.93 376.29 C533.85 375.45 535.76 374.66 537.68 373.91 C539.59 373.16 541.51 372.45 543.42 371.79 C545.34 371.13 547.25 370.51 549.17 369.93 C551.08 369.36 553.00 368.82 554.92 368.33 C556.83 367.83 558.75 367.38 560.66 366.97 C562.58 366.55 564.49 366.18 566.41 365.83 C568.32 365.49 570.24 365.19 572.15 364.92 C574.07 364.64 575.98 364.41 577.90 364.20 C579.82 363.99 581.73 363.81 583.65 363.65 C585.56 363.49 587.48 363.36 589.39 363.25 C591.31 363.13 593.22 363.05 595.14 362.96 C597.05 362.88 598.97 362.82 600.88 362.76 C602.80 362.71 604.72 362.66 606.63 362.61 C608.55 362.56 610.46 362.52 612.38 362.46 C614.29 362.40 616.21 362.35 618.12 362.27 C620.04 362.19 621.95 362.11 623.87 361.99 C625.78 361.87 627.70 361.74 629.62 361.56 C631.53 361.39 633.45 361.19 635.36 360.93 C637.28 360.68 639.19 360.39 641.11 360.04 C643.02 359.68 644.94 359.29 646.85 358.81 C648.77 358.33 650.68 357.80 652.60 357.18 C654.52 356.55 656.43 355.86 658.35 355.06 C660.26 354.26 662.18 353.38 664.09 352.38 C666.01 351.38 667.92 350.28 669.84 349.05 C671.75 347.81 673.67 346.47 675.58 344.97 C677.50 343.47 679.42 341.85 681.33 340.05 C683.25 338.25 685.16 336.32 687.08 334.19 C688.99 332.06 690.91 329.78 692.82 327.28 C694.74 324.78 696.65 322.11 698.57 319.20 C700.48 316.29 702.40 313.19 704.32 309.84 C706.23 306.48 708.15 302.91 710.06 299.06 C711.98 295.22 713.89 291.13 715.81 286.75 C717.72 282.37 719.64 277.73 721.55 272.76 C723.47 267.79 726.34 259.58 727.30 256.95" stroke="#6196ce" stroke-width="2.5" fill="none" stroke-linecap="round"/>
<rect x="440" y="517.6" width="373.4" height="239.9" fill="#fff" stroke="#e0e0e0" stroke-width="1"/>
<text x="527.60" y="498.30" font-size="13.5" fill="#25292a" stroke="#25292a" stroke-width="0.2" textLength="223.90" lengthAdjust="spacingAndGlyphs">Spadki ciśnień dla filtra standardowego</text>
<path d="M483.4 715.11H798.4 M483.4 711.03H798.4 M483.4 706.94H798.4 M483.4 702.86H798.4 M483.4 694.68H798.4 M483.4 690.60H798.4 M483.4 686.51H798.4 M483.4 682.43H798.4 M483.4 674.25H798.4 M483.4 670.17H798.4 M483.4 666.08H798.4 M483.4 662.00H798.4 M483.4 653.82H798.4 M483.4 649.74H798.4 M483.4 645.65H798.4 M483.4 641.57H798.4 M483.4 633.39H798.4 M483.4 629.31H798.4 M483.4 625.22H798.4 M483.4 621.14H798.4 M483.4 612.96H798.4 M483.4 608.88H798.4 M483.4 604.79H798.4 M483.4 600.71H798.4 M483.4 592.53H798.4 M483.4 588.45H798.4 M483.4 584.36H798.4 M483.4 580.28H798.4 M483.4 572.10H798.4 M483.4 568.02H798.4 M483.4 563.93H798.4 M483.4 559.85H798.4 M483.4 551.67H798.4 M483.4 547.59H798.4 M483.4 543.50H798.4 M483.4 539.42H798.4" stroke="#f4f4f4" stroke-width="1" fill="none"/>
<path d="M483.4 719.20H798.4 M483.4 698.77H798.4 M483.4 678.34H798.4 M483.4 657.91H798.4 M483.4 637.48H798.4 M483.4 617.05H798.4 M483.4 596.62H798.4 M483.4 576.19H798.4 M483.4 555.76H798.4 M483.4 535.33H798.4" stroke="#dcdcdc" stroke-width="1" fill="none"/>
<text x="476.00" y="721.90" font-size="7.8" fill="#6a6a6c" text-anchor="end">0</text>
<text x="476.00" y="701.47" font-size="7.8" fill="#6a6a6c" text-anchor="end">50</text>
<text x="476.00" y="681.04" font-size="7.8" fill="#6a6a6c" text-anchor="end">100</text>
<text x="476.00" y="660.61" font-size="7.8" fill="#6a6a6c" text-anchor="end">150</text>
<text x="476.00" y="640.18" font-size="7.8" fill="#6a6a6c" text-anchor="end">200</text>
<text x="476.00" y="619.75" font-size="7.8" fill="#6a6a6c" text-anchor="end">250</text>
<text x="476.00" y="599.32" font-size="7.8" fill="#6a6a6c" text-anchor="end">300</text>
<text x="476.00" y="578.89" font-size="7.8" fill="#6a6a6c" text-anchor="end">350</text>
<text x="476.00" y="558.46" font-size="7.8" fill="#6a6a6c" text-anchor="end">400</text>
<text x="476.00" y="538.03" font-size="7.8" fill="#6a6a6c" text-anchor="end">450</text>
<text x="499.15" y="732.80" font-size="7.8" fill="#6a6a6c" text-anchor="middle">100</text>
<text x="530.65" y="732.80" font-size="7.8" fill="#6a6a6c" text-anchor="middle">200</text>
<text x="562.15" y="732.80" font-size="7.8" fill="#6a6a6c" text-anchor="middle">300</text>
<text x="593.65" y="732.80" font-size="7.8" fill="#6a6a6c" text-anchor="middle">400</text>
<text x="625.15" y="732.80" font-size="7.8" fill="#6a6a6c" text-anchor="middle">500</text>
<text x="656.65" y="732.80" font-size="7.8" fill="#6a6a6c" text-anchor="middle">600</text>
<text x="688.15" y="732.80" font-size="7.8" fill="#6a6a6c" text-anchor="middle">700</text>
<text x="719.65" y="732.80" font-size="7.8" fill="#6a6a6c" text-anchor="middle">800</text>
<text x="751.15" y="732.80" font-size="7.8" fill="#6a6a6c" text-anchor="middle">900</text>
<text x="782.65" y="732.80" font-size="7.8" fill="#6a6a6c" text-anchor="middle">1000</text>
<text x="577.50" y="752.00" font-size="8.2" fill="#707072" textLength="110.90" lengthAdjust="spacingAndGlyphs">PRZEPŁYW POWIETRZA [M³/H]</text>
<text x="0" y="0" font-size="8" fill="#707072" textLength="85" lengthAdjust="spacingAndGlyphs" transform="translate(453.2 673) rotate(-90)">SPADEK CIŚNIENIA [PA]</text>
<path d="M499.15 717.97 L530.65 714.50 L562.15 710.21 L593.65 702.04 L625.15 692.64 L656.65 680.79 L688.15 666.90 L719.65 650.35 L751.15 631.76 L782.65 609.70" stroke="#5a8cc6" stroke-width="3.4" fill="none" stroke-linecap="round" stroke-linejoin="round"/>
<path d="M499.15 717.57 L530.65 712.01 L562.15 704.49 L593.65 693.25 L625.15 678.54 L656.65 659.75 L688.15 636.25 L719.65 611.33 L751.15 579.05 L782.65 545.14" stroke="#e27b3c" stroke-width="3.4" fill="none" stroke-linecap="round" stroke-linejoin="round"/>
<path d="M552.5 552.9H570.5" stroke="#5a8cc6" stroke-width="3.4" stroke-linecap="round"/>
<path d="M552.5 570H570.5" stroke="#e27b3c" stroke-width="3.4" stroke-linecap="round"/>
<text x="573.60" y="555.40" font-size="7.8" fill="#6a6a6c" textLength="30.20" lengthAdjust="spacingAndGlyphs">500x500</text>
<text x="573.60" y="572.50" font-size="7.8" fill="#6a6a6c" textLength="30.20" lengthAdjust="spacingAndGlyphs">400x500</text>
<rect x="434.1" y="819.1" width="91.9" height="36.9" fill="#e3e3e4"/>
<rect x="526" y="819.1" width="163.6" height="36.9" fill="#c3c1c3"/>
<text x="464.80" y="841.90" font-size="12.5" fill="#29292b" stroke="#29292b" stroke-width="0.35" textLength="31.10" lengthAdjust="spacingAndGlyphs">Nr kat.</text>
<text x="570.90" y="841.90" font-size="12.5" fill="#29292b" stroke="#29292b" stroke-width="0.35" textLength="80.00" lengthAdjust="spacingAndGlyphs">Łapacze tłuszczu</text>
<text x="451.40" y="868.60" font-size="13" fill="#262628" font-weight="bold" textLength="58.20" lengthAdjust="spacingAndGlyphs">982324050</text>
<text x="451.40" y="882.60" font-size="13" fill="#262628" font-weight="bold" textLength="58.20" lengthAdjust="spacingAndGlyphs">982325050</text>
<text x="541.60" y="868.60" font-size="12.5" fill="#4a4a4c" stroke="#4a4a4c" stroke-width="0.35" textLength="61.50" lengthAdjust="spacingAndGlyphs">400x500 mm</text>
<text x="541.60" y="882.60" font-size="12.5" fill="#4a4a4c" stroke="#4a4a4c" stroke-width="0.35" textLength="61.50" lengthAdjust="spacingAndGlyphs">500x500 mm</text>
<filter id="soft" x="-5%" y="-5%" width="110%" height="110%"><feGaussianBlur stdDeviation="0.45"/></filter>
<g filter="url(#soft)">
<defs><linearGradient id="slotg" x1="0" y1="0" x2="0" y2="1"><stop offset="0" stop-color="#faf8f8"/><stop offset="0.85" stop-color="#f2efee"/><stop offset="1" stop-color="#fbf9f9"/></linearGradient><linearGradient id="wedge" x1="0" y1="0" x2="1" y2="0"><stop offset="0" stop-color="#e8e6e6"/><stop offset="1" stop-color="#b4b2b3"/></linearGradient></defs>
<polygon points="830,294.0 1008,344.20 1008,552.30 830,502.10" fill="#b9b7b8"/>
<polygon points="830,294.0 1008,344.20 1008,350.20 830,300.0" fill="#d2d0d1"/>
<polygon points="830,300.0 1008,350.20 1008,353.70 830,303.5" fill="#c4c2c3"/>
<polygon points="852,305.40 866,309.35 866,310.75 852,306.80" fill="#a9a7a8"/>
<polygon points="924,325.71 938,329.66 938,331.06 924,327.11" fill="#a9a7a8"/>
<polygon points="996,346.01 1008,349.40 1008,350.80 996,347.41" fill="#a9a7a8"/>
<polygon points="830,497.5 1008,547.70 1008,552.50 830,502.3" fill="#afadae"/>
<polygon points="849.10,310.51 851.60,311.22 851.60,502.92 849.10,502.21" fill="#aba9aa"/>
<polygon points="852.80,311.56 856.80,312.68 856.80,504.38 852.80,503.26" fill="#b9b7b9"/>
<polygon points="844.80,309.30 849.10,310.51 849.10,502.21 844.80,501.00" fill="url(#slotg)"/>
<polygon points="848.90,471.00 853.60,502.48 848.90,502.21" fill="url(#wedge)"/>
<polygon points="867.46,315.69 869.96,316.40 869.96,508.10 867.46,507.39" fill="#aba9aa"/>
<polygon points="871.16,316.73 875.16,317.86 875.16,509.56 871.16,508.43" fill="#b9b7b9"/>
<polygon points="863.16,314.48 867.46,315.69 867.46,507.39 863.16,506.18" fill="url(#slotg)"/>
<polygon points="867.26,476.18 871.96,507.66 867.26,507.39" fill="url(#wedge)"/>
<polygon points="885.82,320.87 888.32,321.57 888.32,513.27 885.82,512.57" fill="#aba9aa"/>
<polygon points="889.52,321.91 893.52,323.04 893.52,514.74 889.52,513.61" fill="#b9b7b9"/>
<polygon points="881.52,319.66 885.82,320.87 885.82,512.57 881.52,511.36" fill="url(#slotg)"/>
<polygon points="885.62,481.36 890.32,512.84 885.62,512.57" fill="url(#wedge)"/>
<polygon points="904.18,326.05 906.68,326.75 906.68,518.45 904.18,517.75" fill="#aba9aa"/>
<polygon points="907.88,327.09 911.88,328.22 911.88,519.92 907.88,518.79" fill="#b9b7b9"/>
<polygon points="899.88,324.83 904.18,326.05 904.18,517.75 899.88,516.53" fill="url(#slotg)"/>
<polygon points="903.98,486.53 908.68,518.01 903.98,517.75" fill="url(#wedge)"/>
<polygon points="922.54,331.22 925.04,331.93 925.04,523.63 922.54,522.92" fill="#aba9aa"/>
<polygon points="926.24,332.27 930.24,333.39 930.24,525.09 926.24,523.97" fill="#b9b7b9"/>
<polygon points="918.24,330.01 922.54,331.22 922.54,522.92 918.24,521.71" fill="url(#slotg)"/>
<polygon points="922.34,491.71 927.04,523.19 922.34,522.92" fill="url(#wedge)"/>
<polygon points="940.90,336.40 943.40,337.11 943.40,528.81 940.90,528.10" fill="#aba9aa"/>
<polygon points="944.60,337.44 948.60,338.57 948.60,530.27 944.60,529.14" fill="#b9b7b9"/>
<polygon points="936.60,335.19 940.90,336.40 940.90,528.10 936.60,526.89" fill="url(#slotg)"/>
<polygon points="940.70,496.89 945.40,528.37 940.70,528.10" fill="url(#wedge)"/>
<polygon points="959.26,341.58 961.76,342.28 961.76,533.98 959.26,533.28" fill="#aba9aa"/>
<polygon points="962.96,342.62 966.96,343.75 966.96,535.45 962.96,534.32" fill="#b9b7b9"/>
<polygon points="954.96,340.37 959.26,341.58 959.26,533.28 954.96,532.07" fill="url(#slotg)"/>
<polygon points="959.06,502.07 963.76,533.55 959.06,533.28" fill="url(#wedge)"/>
<polygon points="977.62,346.76 980.12,347.46 980.12,539.16 977.62,538.46" fill="#aba9aa"/>
<polygon points="981.32,347.80 985.32,348.93 985.32,540.63 981.32,539.50" fill="#b9b7b9"/>
<polygon points="973.32,345.54 977.62,346.76 977.62,538.46 973.32,537.24" fill="url(#slotg)"/>
<polygon points="977.42,507.24 982.12,538.72 977.42,538.46" fill="url(#wedge)"/>
<polygon points="995.98,351.93 998.48,352.64 998.48,544.34 995.98,543.63" fill="#aba9aa"/>
<polygon points="999.68,352.98 1003.68,354.10 1003.68,545.80 999.68,544.68" fill="#b9b7b9"/>
<polygon points="991.68,350.72 995.98,351.93 995.98,543.63 991.68,542.42" fill="url(#slotg)"/>
<polygon points="995.78,512.42 1000.48,543.90 995.78,543.63" fill="url(#wedge)"/>
</g>
</svg>
</body></html>
